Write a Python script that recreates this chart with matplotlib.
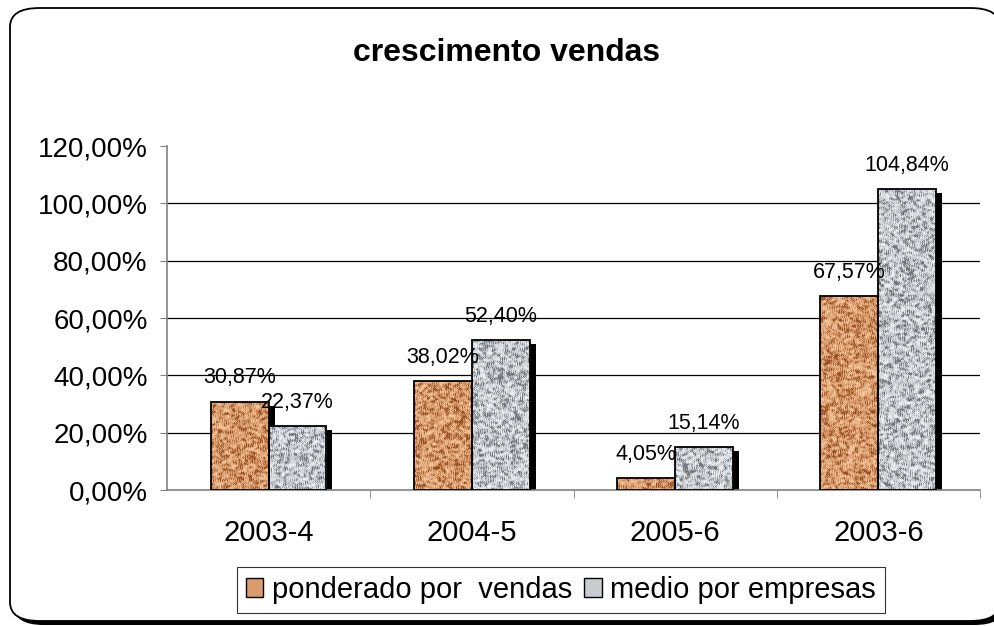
import numpy as np
import matplotlib
matplotlib.use('Agg')
import matplotlib.pyplot as plt
from matplotlib.patches import FancyBboxPatch, Rectangle

plt.rcParams['font.family'] = ['Liberation Sans', 'DejaVu Sans']

# data
categories = ['2003-4', '2004-5', '2005-6', '2003-6']
ponderado = [30.87, 38.02, 4.05, 67.57]
medio = [22.37, 52.40, 15.14, 104.84]
series_names = ['ponderado por  vendas', 'medio por empresas']
yticks = [0, 20, 40, 60, 80, 100, 120]

W, H = 994, 626
fig = plt.figure(figsize=(W / 100, H / 100), dpi=100)

# rounded outer frame with dark shadow (bottom/right)
shadow = FancyBboxPatch((14 / W, 1 - 625 / H), 990 / W, 612 / H,
                        boxstyle='round,pad=0,rounding_size=0.03',
                        transform=fig.transFigure, facecolor='black',
                        edgecolor='none', zorder=0)
frame = FancyBboxPatch((10 / W, 1 - 621 / H), 990 / W, 613 / H,
                       boxstyle='round,pad=0,rounding_size=0.03',
                       transform=fig.transFigure, facecolor='white',
                       edgecolor='black', linewidth=1.3, zorder=0.5)
fig.patches.extend([shadow, frame])

ax = fig.add_axes([167 / W, 136 / H, 813 / W, 344 / H])
ax.set_zorder(2)
ax.set_facecolor('none')

# granite-like texture for the bars (decoration only)
rng = np.random.default_rng(3)


def granite(base, dark, light, h=120, w=40):
    n = rng.normal(size=(h + 2, w + 2))
    n = (n[:-2, :-2] + n[1:-1, 1:-1] + n[2:, 2:] + n[:-2, 2:] + n[2:, :-2]
         + n[1:-1, :-2] + n[1:-1, 2:]) / 7
    n = np.clip(n * 1.6, -1, 1)
    base = np.array(base) / 255
    dark = np.array(dark) / 255
    light = np.array(light) / 255
    img = np.where(n[..., None] < 0,
                   base + (base - dark) * n[..., None],
                   base + (light - base) * n[..., None])
    return np.clip(img, 0, 1)


styles = [
    dict(base=(218, 156, 108), dark=(150, 80, 35), light=(242, 196, 156)),
    dict(base=(200, 204, 208), dark=(110, 115, 122), light=(236, 238, 242)),
]

width = 0.285
offsets = [-0.143, 0.142]
px_x = 6 / 203.0
px_y = 120 / 344.0

for s, vals in enumerate([ponderado, medio]):
    st = styles[s]
    for i, v in enumerate(vals):
        x0 = i + offsets[s] - width / 2
        # drop shadow
        ax.add_patch(Rectangle((x0 + px_x, 0), width, max(v - 4 * px_y, 0),
                               facecolor='black', edgecolor='none', zorder=2))
        bar = Rectangle((x0, 0), width, v, facecolor=np.array(st['base']) / 255,
                        edgecolor='none', zorder=3)
        ax.add_patch(bar)
        hpx = max(int(v * 344 / 120), 2)
        tex = granite(st['base'], st['dark'], st['light'], h=hpx, w=58)
        im = ax.imshow(tex, extent=(x0, x0 + width, 0, v), aspect='auto',
                       interpolation='nearest', zorder=3.5)
        im.set_clip_path(bar)
        ax.add_patch(Rectangle((x0, 0), width, v, facecolor='none',
                               edgecolor='black', linewidth=1.3, zorder=4))
        lbl = f'{v:.2f}'.replace('.', ',') + '%'
        ax.annotate(lbl, (i + offsets[s], v), xytext=(0, 13),
                    textcoords='offset points', ha='center', va='baseline',
                    fontsize=15.5, zorder=6)

ax.set_xlim(-0.5, 3.5)
ax.set_ylim(0, 120)

# axes styling
for sp in ['top', 'right']:
    ax.spines[sp].set_visible(False)
ax.spines['left'].set_color('#808080')
ax.spines['bottom'].set_color('#808080')
ax.spines['left'].set_linewidth(1.2)
ax.spines['bottom'].set_linewidth(1.2)
ax.set_yticks(yticks)
ax.set_yticklabels([f'{t:.2f}'.replace('.', ',') + '%' for t in yticks], fontsize=20)
for t in yticks[1:-1]:
    ax.axhline(t, color='black', linewidth=0.9, zorder=1)
ax.set_xticks(range(len(categories)))
ax.set_xticklabels(categories, fontsize=21)
ax.tick_params(axis='x', length=0, pad=21)
ax.set_xticks([0.5, 1.5, 2.5, 3.5], minor=True)
ax.tick_params(axis='x', which='minor', length=6, color='#808080', direction='out')
ax.tick_params(axis='y', length=5, color='#808080', pad=9)

fig.text(507 / W, 1 - 53 / H, 'crescimento vendas', ha='center', va='center',
         fontsize=23, fontweight='bold')

# legend
handles = [Rectangle((0, 0), 1, 1, facecolor=np.array(st['base']) / 255,
                     edgecolor='black', linewidth=1) for st in styles]
leg = fig.legend(handles, series_names, loc='center',
                 bbox_to_anchor=(561 / W, 1 - 590 / H), ncol=2, fontsize=21,
                 frameon=True, fancybox=False, handlelength=0.6,
                 handleheight=0.6, handletextpad=0.3, columnspacing=0.4,
                 borderpad=0.3, borderaxespad=0)
leg.get_frame().set_edgecolor('black')
leg.get_frame().set_linewidth(0.8)

fig.savefig('out.png', dpi=100)
